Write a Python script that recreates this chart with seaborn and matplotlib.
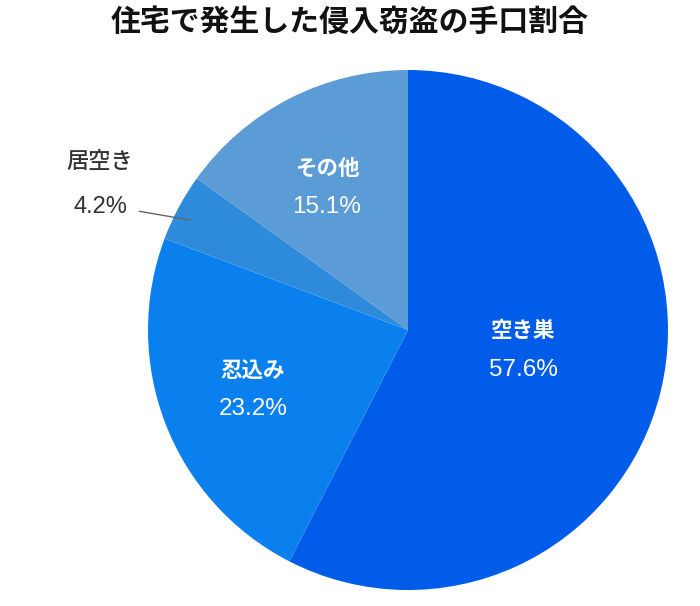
import numpy as np
import seaborn as sns
import matplotlib.pyplot as plt

# data
labels = ["空き巣", "忍込み", "居空き", "その他"]
shares = [57.6, 23.2, 4.2, 15.1]
colors = ["#025CEA", "#0A80EE", "#2E8BDB", "#5C9CD6"]

sns.set_style("white")
plt.rcParams['font.family'] = ['Noto Sans CJK JP', 'DejaVu Sans']

fig = plt.figure(figsize=(7, 6.06), dpi=100)
ax = fig.add_axes([148 / 700, 16 / 606, 520 / 700, 520 / 606])

wedges, _ = ax.pie(shares, colors=colors, startangle=90, counterclock=False,
                   radius=1, wedgeprops=dict(linewidth=0))
ax.set_xlim(-1, 1)
ax.set_ylim(-1, 1)

# label distance (fraction of radius) and angle tweak per slice
label_dist = [0.45, 0.64, 1.31, 0.63]
angle_tweak = [3.5, 0, 2.8, 2.5]
pct_font = ['Liberation Sans', 'DejaVu Sans']

for w, name, val, d, tw in zip(wedges, labels, shares, label_dist, angle_tweak):
    mid_deg = (w.theta1 + w.theta2) / 2
    mid = np.deg2rad(mid_deg + tw)
    x, y = d * np.cos(mid), d * np.sin(mid)
    if d > 1:
        ax.text(x, y + 0.087, name, ha='center', va='center', fontsize=16,
                color='#333333', fontweight='medium')
        ax.text(x, y - 0.087, f"{val}%", ha='center', va='center', fontsize=17,
                color='#333333', family=pct_font)
        a0, a1 = np.deg2rad(mid_deg + 4.3), np.deg2rad(mid_deg + 1.4)
        ax.plot([1.13 * np.cos(a0), 0.94 * np.cos(a1)],
                [1.13 * np.sin(a0), 0.94 * np.sin(a1)],
                color='#666666', lw=1, clip_on=False)
    else:
        ax.text(x, y + 0.075, name, ha='center', va='center', fontsize=15.5,
                color='white', fontweight='bold')
        ax.text(x, y - 0.075, f"{val}%", ha='center', va='center', fontsize=17.5,
                color='white', family=pct_font)

fig.text(0.5, 1 - 22 / 606, "住宅で発生した侵入窃盗の手口割合", ha='center', va='center',
         fontsize=21.5, fontweight='bold', color='#111111')

fig.savefig('out.png', dpi=100)
